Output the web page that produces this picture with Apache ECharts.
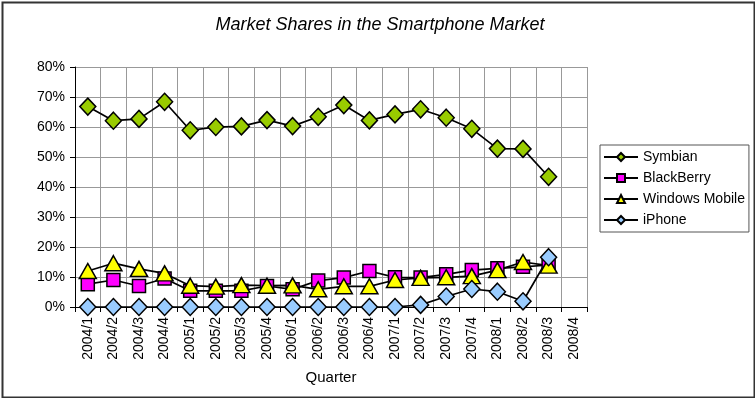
<!DOCTYPE html>
<html>
<head>
<meta charset="utf-8">
<script src="https://cdn.jsdelivr.net/npm/echarts@6/dist/echarts.min.js"></script>
<style>html,body{margin:0;padding:0;background:#fff}#c{width:755px;height:398px}</style>
</head>
<body>
<div id="c"></div>
<script>
const categories = ['2004/1','2004/2','2004/3','2004/4','2005/1','2005/2','2005/3','2005/4','2006/1','2006/2','2006/3','2006/4','2007/1','2007/2','2007/3','2007/4','2008/1','2008/2','2008/3','2008/4'];
const symbian = [66.8, 62.1, 62.7, 68.4, 58.9, 60.0, 60.2, 62.3, 60.3, 63.4, 67.3, 62.2, 64.2, 65.9, 63.1, 59.4, 52.8, 52.7, 43.4, null];
const blackberry = [7.6, 9.0, 7.0, 9.5, 5.4, 5.4, 5.4, 7.0, 5.9, 8.8, 9.8, 12.0, 9.9, 9.8, 10.9, 12.3, 12.9, 13.4, 14.0, null];
const windowsMobile = [12.0, 14.6, 12.7, 11.2, 7.1, 6.8, 7.3, 7.1, 7.2, 5.9, 6.9, 6.9, 9.0, 9.7, 9.9, 10.3, 12.3, 15.0, 13.8, null];
const iphone = [0, 0, 0, 0, 0, 0, 0, 0, 0, 0, 0, 0, 0, 0.7, 3.5, 6.0, 5.1, 1.9, 16.6, null];
const yTicks = [0, 10, 20, 30, 40, 50, 60, 70, 80];

const font = 'Liberation Sans, Arial, sans-serif';
const chart = echarts.init(document.getElementById('c'), null, {renderer: 'canvas'});

function mk(name, data, symbol, size, color) {
  return {
    name: name, type: 'line', data: data, symbol: symbol, symbolSize: size,
    showAllSymbol: true, connectNulls: false,
    lineStyle: {color: '#000', width: 1.7},
    itemStyle: {color: color, borderColor: '#000', borderWidth: 1.5},
    emphasis: {disabled: true}, animation: false
  };
}

chart.setOption({
  animation: false,
  backgroundColor: '#fff',
  title: {
    text: 'Market Shares in the Smartphone Market',
    left: 375, top: 11, textAlign: 'center',
    textStyle: {fontFamily: font, fontStyle: 'italic', fontWeight: 'normal', fontSize: 18, color: '#000'}
  },
  graphic: [{
    type: 'rect', left: 0, top: 0, silent: true,
    shape: {x: 1, y: 1, width: 752, height: 395},
    style: {fill: 'none', stroke: '#333', lineWidth: 2}
  }],
  legend: {
    orient: 'vertical', left: 600, top: 145,
    padding: [5, 4, 5, 3], itemGap: 7, itemWidth: 34, itemHeight: 10,
    borderColor: '#555', borderWidth: 1,
    textStyle: {fontFamily: font, fontSize: 14, color: '#000'},
    data: ['Symbian', 'BlackBerry', 'Windows Mobile', 'iPhone']
  },
  grid: {left: 75, right: 168, top: 67, bottom: 91, containLabel: false},
  xAxis: {
    type: 'category', data: categories, boundaryGap: true,
    name: 'Quarter', nameLocation: 'middle', nameGap: 63,
    nameTextStyle: {fontFamily: font, fontSize: 15, color: '#000'},
    axisLine: {lineStyle: {color: '#000', width: 1}},
    axisTick: {show: true, length: 5, lineStyle: {color: '#000'}},
    axisLabel: {rotate: 90, fontFamily: font, fontSize: 14, color: '#000', margin: 10, interval: 0},
    splitLine: {show: true, interval: 0, lineStyle: {color: '#999', width: 1}}
  },
  yAxis: {
    type: 'value', min: yTicks[0], max: yTicks[yTicks.length - 1], interval: 10,
    axisLine: {show: true, lineStyle: {color: '#000', width: 1}},
    axisTick: {show: true, length: 5, lineStyle: {color: '#000'}},
    axisLabel: {fontFamily: font, fontSize: 14, color: '#000', margin: 10, formatter: '{value}%'},
    splitLine: {show: true, lineStyle: {color: '#999', width: 1}}
  },
  series: [
    mk('Symbian', symbian, 'diamond', [16, 17], '#99CC00'),
    mk('BlackBerry', blackberry, 'rect', [13, 13], '#FF00FF'),
    mk('Windows Mobile', windowsMobile, 'triangle', [17, 15], '#FFFF00'),
    mk('iPhone', iphone, 'diamond', [16, 17], '#99CCFF')
  ]
});
</script>
</body>
</html>
